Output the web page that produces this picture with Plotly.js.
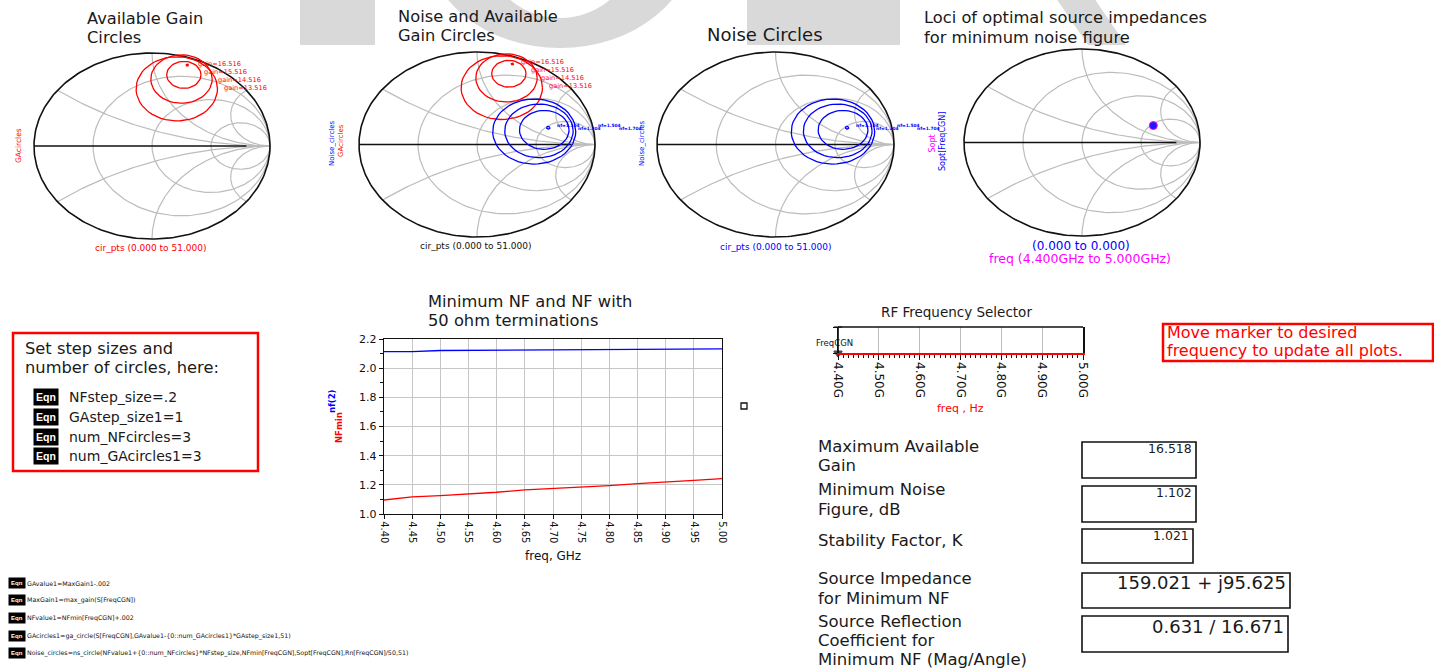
<!DOCTYPE html>
<html><head><meta charset="utf-8">
<script src="https://cdn.plot.ly/plotly-3.0.1.min.js"></script>
<style>html,body{margin:0;padding:0;background:#fff;overflow:hidden}#chart{width:1434px;height:669px}</style>
</head><body><div id="chart"></div>
<script>
// ===================== DATA =====================
// Smith chart grid (normalised resistance / reactance values)
const smithR = [1/3, 1, 3];
const smithX = [1/3, 1, 3];
const cirPts = 51;

// Available gain circles (reflection-coefficient plane)
const gaValues   = [16.516, 15.516, 14.516, 13.516];
const gaCenterRe = [0.300, 0.270, 0.250, 0.210];
const gaCenterIm = [0.870, 0.765, 0.720, 0.615];
const gaRadius   = [0.010, 0.145, 0.260, 0.345];

// Noise circles
const nfValues   = [1.104, 1.304, 1.504, 1.704];
const nsCenterRe = [0.604, 0.570, 0.525, 0.485];
const nsCenterIm = [0.181, 0.158, 0.147, 0.140];
const nsRadius   = [0.014, 0.210, 0.290, 0.352];

// Optimal source reflection coefficient (mag / angle deg)
const soptMag = [0.631];
const soptAngDeg = [16.671];

// Minimum NF and NF with 50 ohm terminations
const freqGHz = [4.40, 4.45, 4.50, 4.55, 4.60, 4.65, 4.70, 4.75, 4.80, 4.85, 4.90, 4.95, 5.00];
const nfMinDb = [1.096, 1.117, 1.126, 1.137, 1.149, 1.165, 1.174, 1.185, 1.195, 1.208, 1.222, 1.231, 1.243];
const nf50Db  = [2.113, 2.114, 2.121, 2.122, 2.122, 2.123, 2.123, 2.124, 2.124, 2.130, 2.131, 2.131, 2.132];

// RF frequency selector
const selTicks = [4.4, 4.5, 4.6, 4.7, 4.8, 4.9, 5.0];
const selTickText = ['4.40G', '4.50G', '4.60G', '4.70G', '4.80G', '4.90G', '5.00G'];
const freqCGN = [4.40];

// Text blocks
const setupLines = ['NFstep_size=.2', 'GAstep_size1=1', 'num_NFcircles=3', 'num_GAcircles1=3'];
const eqnLines = [
  'GAvalue1=MaxGain1-.002',
  'MaxGain1=max_gain(S[FreqCGN])',
  'NFvalue1=NFmin[FreqCGN]+.002',
  'GAcircles1=ga_circle(S[FreqCGN],GAvalue1-{0::num_GAcircles1}*GAstep_size1,51)',
  'Noise_circles=ns_circle(NFvalue1+{0::num_NFcircles}*NFstep_size,NFmin[FreqCGN],Sopt[FreqCGN],Rn[FreqCGN]/50,51)'
];
const tableLabels = [
  ['Maximum Available', 'Gain'],
  ['Minimum Noise', 'Figure, dB'],
  ['Stability Factor, K'],
  ['Source Impedance', 'for Minimum NF'],
  ['Source Reflection', 'Coefficient for', 'Minimum NF (Mag/Angle)']
];
const tableValues = ['16.518', '1.102', '1.021', '159.021 + j95.625', '0.631 / 16.671'];

// ===================== LAYOUT HELPERS =====================
const W = 1434, H = 669;
const px = x => x / W, py = y => 1 - y / H;
const FF = 'DejaVu Sans';
const RED = '#ff0000', BLUE = '#0000ff', MAG = '#ff00ff', GRID = '#bcbcbc';

const traces = [], ann = [], shapes = [];
const layout = {
  width: W, height: H, margin: {l: 0, r: 0, t: 0, b: 0},
  paper_bgcolor: '#ffffff', plot_bgcolor: 'rgba(0,0,0,0)',
  showlegend: false, hovermode: false, font: {family: FF, color: '#000'}
};

function txt(text, x, y, o) {
  o = o || {};
  ann.push({
    text: text, x: px(x), y: py(y), xref: 'paper', yref: 'paper', showarrow: false,
    xanchor: o.xa || 'left', yanchor: 'middle', textangle: o.a || 0,
    font: {family: o.ff || FF, size: o.s || 12, color: o.c || '#1a1a1a', weight: o.w || 'normal'},
    bgcolor: o.bg, borderpad: o.bp === undefined ? 0 : o.bp
  });
}
// stacked lines around a given block centre, one text per line
function lines(arr, x, yCenter, pitch, size, o) {
  const y0 = yCenter - (arr.length - 1) * pitch / 2;
  arr.forEach((t, j) => txt(t, x, y0 + j * pitch, Object.assign({}, o || {}, {s: size})));
}
function rect(x0, y0, x1, y1, color, width, fill, layer) {
  shapes.push({type: 'rect', xref: 'paper', yref: 'paper', x0: px(x0), x1: px(x1), y0: py(y1), y1: py(y0),
    line: {color: color, width: width}, fillcolor: fill || 'rgba(0,0,0,0)', layer: layer || 'above'});
}
function circlePts(cx, cy, r, n) {
  const xs = [], ys = [];
  for (let k = 0; k <= n; k++) { const t = 2 * Math.PI * k / n; xs.push(cx + r * Math.cos(t)); ys.push(cy + r * Math.sin(t)); }
  return [xs, ys];
}

// ===================== WATERMARK =====================
const WM = '#d9d9d9';
rect(300, -5, 375, 45, WM, 0, WM, 'below');
shapes.push({type: 'circle', xref: 'paper', yref: 'paper', x0: px(425), x1: px(695), y0: py(48), y1: py(-170), fillcolor: WM, line: {width: 0}, layer: 'below'});
shapes.push({type: 'circle', xref: 'paper', yref: 'paper', x0: px(482), x1: px(638), y0: py(18), y1: py(-140), fillcolor: '#ffffff', line: {width: 0}, layer: 'below'});
rect(747, -5, 900, 45, WM, 0, WM, 'below');
shapes.push({type: 'path', xref: 'paper', yref: 'paper',
  path: 'M' + px(1056) + ',' + py(-2) + ' L' + px(1094) + ',' + py(-2) + ' L' + px(1126) + ',' + py(45) + ' L' + px(1088) + ',' + py(45) + ' Z',
  fillcolor: WM, line: {width: 0}, layer: 'below'});

// ===================== SMITH CHARTS =====================
const charts = [
  {L: 34, R: 270, T: 53, B: 239},
  {L: 359, R: 595, T: 52, B: 237},
  {L: 657, R: 894, T: 52, B: 237},
  {L: 964, R: 1200, T: 49, B: 236}
];
const PAD = 1.03;
charts.forEach((c, i) => {
  const k = i + 1, sx = k === 1 ? '' : String(k);
  const cx = (c.L + c.R) / 2, cy = (c.T + c.B) / 2, rx = (c.R - c.L) / 2 * PAD, ry = (c.B - c.T) / 2 * PAD;
  layout['xaxis' + sx] = {domain: [px(cx - rx), px(cx + rx)], range: [-PAD, PAD], visible: false, fixedrange: true, anchor: 'y' + sx};
  layout['yaxis' + sx] = {domain: [py(cy + ry), py(cy - ry)], range: [-PAD, PAD], visible: false, fixedrange: true, anchor: 'x' + sx};
  c.xa = 'x' + sx; c.ya = 'y' + sx;

  const gx = [], gy = [];
  smithR.forEach(r => {
    const p = circlePts(r / (r + 1), 0, 1 / (r + 1), 160);
    gx.push(...p[0], null); gy.push(...p[1], null);
  });
  smithX.forEach(x => {
    const cyc = 1 / x, rad = 1 / x;
    const Px = (x * x - 1) / (x * x + 1), Py = 2 * x / (x * x + 1);
    let tp = Math.atan2(Py - cyc, Px - 1);
    if (tp > -Math.PI / 2) tp -= 2 * Math.PI;
    const ax = [], ay = [];
    for (let s = 0; s <= 100; s++) {
      const t = -Math.PI / 2 + (tp + Math.PI / 2) * s / 100;
      ax.push(1 + rad * Math.cos(t)); ay.push(cyc + rad * Math.sin(t));
    }
    gx.push(...ax, null); gy.push(...ay, null);
    gx.push(...ax, null); gy.push(...ay.map(v => -v), null);
  });
  gx.push(0.8, 1, null); gy.push(0, 0, null);
  traces.push({x: gx, y: gy, xaxis: c.xa, yaxis: c.ya, mode: 'lines', line: {color: GRID, width: 1.2}, hoverinfo: 'skip'});
  traces.push({x: [-1, 0.8], y: [0, 0], xaxis: c.xa, yaxis: c.ya, mode: 'lines', line: {color: '#111', width: 1.5}, hoverinfo: 'skip'});
  const oc = circlePts(0, 0, 1, 240);
  traces.push({x: oc[0], y: oc[1], xaxis: c.xa, yaxis: c.ya, mode: 'lines', line: {color: '#111', width: 1.6}, hoverinfo: 'skip'});
});

function circleSet(re, im, rad) {
  const xs = [], ys = [];
  re.forEach((cx, i) => { const p = circlePts(cx, im[i], rad[i], cirPts); xs.push(...p[0], null); ys.push(...p[1], null); });
  return [xs, ys];
}
const gaSet = circleSet(gaCenterRe, gaCenterIm, gaRadius);
const nsSet = circleSet(nsCenterRe, nsCenterIm, nsRadius);
[0, 1].forEach(i => traces.push({x: gaSet[0], y: gaSet[1], xaxis: charts[i].xa, yaxis: charts[i].ya, mode: 'lines', line: {color: RED, width: 1.3}, hoverinfo: 'skip'}));
[1, 2].forEach(i => traces.push({x: nsSet[0], y: nsSet[1], xaxis: charts[i].xa, yaxis: charts[i].ya, mode: 'lines', line: {color: BLUE, width: 1.3}, hoverinfo: 'skip'}));
traces.push({
  x: soptMag.map((m, i) => m * Math.cos(soptAngDeg[i] * Math.PI / 180)),
  y: soptMag.map((m, i) => m * Math.sin(soptAngDeg[i] * Math.PI / 180)),
  xaxis: charts[3].xa, yaxis: charts[3].ya, mode: 'markers',
  marker: {size: 8, color: '#1a1aff', line: {color: MAG, width: 1}}, hoverinfo: 'skip'
});

// smith titles
lines(['Available Gain', 'Circles'], 86, 28, 19, 16.3);
lines(['Noise and Available', 'Gain Circles'], 397, 26, 19, 16.3);
txt('Noise Circles', 706, 34, {s: 18});
lines(['Loci of optimal source impedances', 'for minimum noise figure'], 923, 27.5, 19, 16.3);

// gain circle labels
const gaLab1 = [[197, 64], [203, 72], [217, 80], [223, 88]];
const gaLab2 = [[520, 62], [530, 70], [540, 78], [548, 86]];
gaValues.forEach((v, i) => {
  txt('gain=' + v.toFixed(3), gaLab1[i][0], gaLab1[i][1], {s: 6.6, c: RED});
  txt('gain=' + v.toFixed(3), gaLab2[i][0], gaLab2[i][1], {s: 6.6, c: RED});
});
// noise circle labels (a tight streak of marker readouts)
nfValues.forEach((v, i) => {
  txt('nf=' + v.toFixed(3), 556 + i * 20.6, 127 + (i % 2 ? 1 : -1), {s: 4.4, c: BLUE, w: 'bold'});
  txt('nf=' + v.toFixed(3), 855 + i * 20.3, 127 + (i % 2 ? 1 : -1), {s: 4.4, c: BLUE, w: 'bold'});
});

// smith axis labels
txt('GAcircles', 18, 146, {s: 7.5, c: RED, a: -90, xa: 'center'});
txt('cir_pts (0.000 to 51.000)', 150, 248, {s: 9, c: RED, xa: 'center'});
txt('Noise_circles', 332, 143, {s: 7, c: BLUE, a: -90, xa: 'center'});
txt('GAcircles', 341, 141, {s: 7, c: RED, a: -90, xa: 'center'});
txt('Noise_circles', 642, 143, {s: 7, c: BLUE, a: -90, xa: 'center'});
txt('cir_pts (0.000 to 51.000)', 475, 246, {s: 9, c: '#111', xa: 'center'});
txt('cir_pts (0.000 to 51.000)', 775, 247, {s: 9, c: BLUE, xa: 'center'});
txt('Sopt', 931.5, 143, {s: 8, c: MAG, a: -90, xa: 'center'});
txt('Sopt[FreqCGN]', 942, 142, {s: 8, c: BLUE, a: -90, xa: 'center'});
txt('(0.000 to 0.000)', 1081, 246, {s: 12, c: BLUE, xa: 'center'});
txt('freq (4.400GHz to 5.000GHz)', 1080, 258, {s: 12.5, c: MAG, xa: 'center'});

// ===================== NF PLOT =====================
layout.xaxis5 = {
  domain: [px(384), px(722)], anchor: 'y5', range: [4.40, 5.00],
  tickmode: 'array', tickvals: freqGHz, ticktext: freqGHz.map(v => v.toFixed(2)), tickangle: 90,
  tickfont: {family: FF, size: 10, color: '#111'},
  showgrid: true, gridcolor: '#c6c6c6', gridwidth: 1, zeroline: false,
  showline: true, linecolor: '#111', linewidth: 1.2, mirror: true,
  ticks: 'outside', ticklen: 4, tickcolor: '#111', fixedrange: true
};
layout.yaxis5 = {
  domain: [py(514), py(339)], anchor: 'x5', range: [1.0, 2.2],
  tickmode: 'linear', tick0: 1.0, dtick: 0.2, tickformat: '.1f',
  tickfont: {family: FF, size: 11, color: '#111'},
  showgrid: true, gridcolor: '#c6c6c6', gridwidth: 1, zeroline: false,
  showline: true, linecolor: '#111', linewidth: 1.2, mirror: true,
  ticks: 'outside', ticklen: 4, tickcolor: '#111', fixedrange: true,
  minor: {tickmode: 'linear', tick0: 1.0, dtick: 0.1, ticks: 'outside', ticklen: 3, tickcolor: '#111', showgrid: false}
};
traces.push({x: freqGHz, y: nf50Db, xaxis: 'x5', yaxis: 'y5', mode: 'lines', line: {color: BLUE, width: 1.3}, hoverinfo: 'skip'});
traces.push({x: freqGHz, y: nfMinDb, xaxis: 'x5', yaxis: 'y5', mode: 'lines', line: {color: RED, width: 1.3}, hoverinfo: 'skip'});
lines(['Minimum NF and NF with', '50 ohm terminations'], 427, 310.5, 19, 16.3);
txt('nf(2)', 332, 401, {s: 8.5, c: BLUE, a: -90, xa: 'center', w: 'bold'});
txt('NFmin', 339, 428, {s: 8.5, c: RED, a: -90, xa: 'center', w: 'bold'});
txt('freq, GHz', 553, 556, {s: 12, c: '#111', xa: 'center'});
rect(741, 403, 747, 409, '#111', 1.3);

// ===================== RF FREQUENCY SELECTOR =====================
layout.xaxis6 = {
  domain: [px(838), px(1083)], anchor: 'y6', range: [4.4, 5.0],
  tickmode: 'array', tickvals: selTicks, ticktext: selTickText, tickangle: 90,
  tickfont: {family: FF, size: 12, color: '#111'},
  showgrid: true, gridcolor: '#bdbdbd', gridwidth: 1.2, zeroline: false,
  showline: true, linecolor: RED, linewidth: 1.6, mirror: false,
  ticks: 'outside', ticklen: 5, tickcolor: '#111', fixedrange: true,
  minor: {tickmode: 'linear', tick0: 4.4, dtick: 0.0125, ticks: 'outside', ticklen: 3, tickcolor: '#111', showgrid: false}
};
layout.yaxis6 = {
  domain: [py(353), py(327)], anchor: 'x6', range: [0, 1],
  tickmode: 'array', tickvals: [0, 1], ticktext: ['', ''], ticks: 'outside', ticklen: 4, tickcolor: '#111',
  showgrid: false, zeroline: false, showline: true, linecolor: '#111', linewidth: 1.5, mirror: true, fixedrange: true
};
shapes.push({type: 'line', xref: 'x6 domain', yref: 'y6 domain', x0: 0, x1: 1, y0: 1, y1: 1, line: {color: '#111', width: 1.5}});
traces.push({x: [freqCGN[0], freqCGN[0]], y: [1, 0], xaxis: 'x6', yaxis: 'y6', mode: 'lines+markers', cliponaxis: false,
  line: {color: '#000', width: 1.6}, marker: {symbol: ['line-ew', 'triangle-down'], size: [6, 7], color: '#000', line: {color: '#000', width: 1.5}}, hoverinfo: 'skip'});
txt('RF Frequency Selector', 880, 312, {s: 13.5});
txt('FreqCGN', 815, 343, {s: 8.5, c: '#111'});
txt('freq , Hz', 960, 408, {s: 11, c: RED, xa: 'center'});

rect(1163, 324, 1433, 361, RED, 2.5);
lines(['Move marker to desired', 'frequency to update all plots.'], 1166, 341.5, 18.6, 16, {c: RED});

// ===================== SETUP BOX =====================
rect(13, 333, 258, 471, RED, 2.5);
lines(['Set step sizes and', 'number of circles, here:'], 24, 358, 19, 16.3);
const setupY = [397, 417, 437, 456];
setupLines.forEach((t, i) => {
  txt('Eqn', 33, setupY[i], {s: 10.5, c: '#fff', bg: '#000', bp: 2, ff: 'Liberation Sans', w: 'bold'});
  txt(t, 68, setupY[i], {s: 14});
});

// ===================== BOTTOM EQUATIONS =====================
const eqnY = [583, 600, 618, 636, 653];
eqnLines.forEach((t, i) => {
  txt('Eqn', 8, eqnY[i], {s: 6, c: '#fff', bg: '#000', bp: 2, ff: 'Liberation Sans', w: 'bold'});
  txt(t, 25.5, eqnY[i], {s: 6.3, c: '#111'});
});

// ===================== RESULT TABLE =====================
const labCenter = [456, 499.5, 540, 588.5, 640.5];
tableLabels.forEach((arr, i) => lines(arr, 817, labCenter[i], 19.3, 16.5));
const boxes = [[1082, 442, 1196, 478], [1082, 486, 1196, 522], [1082, 529, 1193, 563], [1082, 573, 1290, 608], [1082, 616, 1288, 652]];
const valSize = [12.5, 12.5, 12.5, 18, 18];
const valY = [448, 492, 535, 582, 626];
tableValues.forEach((v, i) => {
  const b = boxes[i];
  rect(b[0], b[1], b[2], b[3], '#111', 1.6);
  txt(v, b[2] - 3, valY[i], {s: valSize[i], xa: 'right'});
});

layout.shapes = shapes;
layout.annotations = ann;
Plotly.newPlot('chart', traces, layout, {staticPlot: true, displayModeBar: false});
</script></body></html>
